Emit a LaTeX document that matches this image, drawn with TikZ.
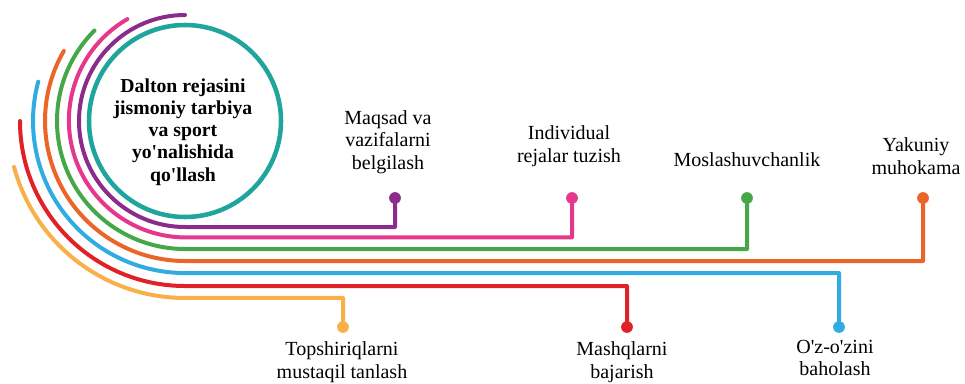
\documentclass[tikz,border=0pt]{standalone}
\usepackage{fontspec}
\setmainfont{Liberation Serif}
\usepackage{xcolor}
\usepackage{tikz}
\definecolor{hubteal}{HTML}{1FA59B}
\definecolor{lpurple}{HTML}{8B2C8C}
\definecolor{lpink}{HTML}{E5378C}
\definecolor{lgreen}{HTML}{46A748}
\definecolor{lorange}{HTML}{EA6527}
\definecolor{lblue}{HTML}{30ACE2}
\definecolor{lred}{HTML}{E12128}
\definecolor{lyellow}{HTML}{F8B04A}
\tikzset{
  band/.style={line width=3pt, line cap=round, line join=round},
  dot/.style={circle, fill=#1, inner sep=0pt, minimum size=8.8pt},
  lbl/.style={align=center, font=\fontsize{15}{16.8}\selectfont},
  ttl/.style={align=center, font=\fontsize{14.8}{16.6}\selectfont\bfseries},
  hub/.style={circle, draw=hubteal, line width=3.4pt, minimum size=144pt, inner sep=0pt}
}

\begin{document}
\begin{tikzpicture}[x=0.75pt, y=-0.75pt]
\useasboundingbox (0,0) rectangle (965,383);
% central circle
\node[hub] (hub) at (185,121) {};
\node[ttl] (title) at (183,132) {Dalton rejasini\\jismoniy tarbiya\\va sport\\yo\textquotesingle nalishida\\qo\textquotesingle llash};

% end dots
\node[dot=lpurple] (pdot) at (395,198) {};
\node[dot=lpink] (kdot) at (572,198) {};
\node[dot=lgreen] (gdot) at (747,198) {};
\node[dot=lorange] (odot) at (923,198) {};
\node[dot=lblue] (bdot) at (839,327) {};
\node[dot=lred] (rdot) at (627,327) {};
\node[dot=lyellow] (ydot) at (343,327) {};

% bands round the circle, then out to the dots
\draw[band, lpurple] (185,15) arc[start angle=270, end angle=90, radius=106] -| (pdot);
\draw[band, lpink] (127.4,19.1) arc[start angle=240, end angle=90, radius=117] -| (kdot);
\draw[band, lgreen] (94.5,30.5) arc[start angle=225, end angle=90, radius=128] -| (gdot);
\draw[band, lorange] (63.8,51) arc[start angle=210, end angle=90, radius=140] -| (odot);
\draw[band, lblue] (38.2,81.7) arc[start angle=195, end angle=90, radius=152] -| (bdot);
\draw[band, lred] (20,121) arc[start angle=180, end angle=90, radius=165] -| (rdot);
\draw[band, lyellow] (14,166.8) arc[start angle=165, end angle=90, radius=177] -| (ydot);

% labels above
\node[lbl] (goal) at (388,142) {Maqsad va\\vazifalarni\\belgilash};
\node[lbl] (plan) at (569,146) {Individual\\rejalar tuzish};
\node[lbl] (flex) at (747,160) {Moslashuvchanlik};
\node[lbl] (final) at (916,156) {Yakuniy\\muhokama};
% labels below
\node[lbl] (task) at (342,362) {Topshiriqlarni\\mustaqil tanlash};
\node[lbl] (drill) at (622,362) {Mashqlarni\\bajarish};
\node[lbl] (self) at (835,358) {O\textquotesingle z-o\textquotesingle zini\\baholash};
\end{tikzpicture}
\end{document}
